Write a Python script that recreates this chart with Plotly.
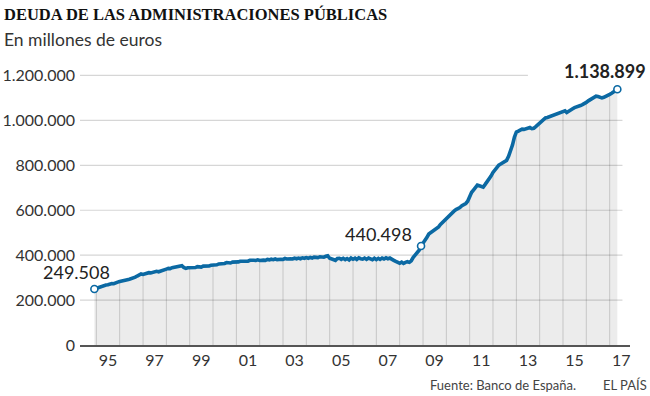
import plotly.graph_objects as go
import pandas as pd

# ---- Data: Deuda de las AA.PP., monthly, in thousands of millions of euros ----
start_month = "1994-12-01"
deuda_1994 = [249.508]
deuda_1995 = [253, 257, 258, 263, 264, 267, 268, 272, 274, 273, 278, 280]
deuda_1996 = [283, 286, 287, 290, 291, 293, 295, 299, 302, 307, 311, 316]
deuda_1997 = [314, 318, 319, 322, 321, 324, 326, 328, 326, 330, 331, 334]
deuda_1998 = [338, 341, 340, 344, 345, 348, 349, 352, 353, 345, 341, 344]
deuda_1999 = [344, 346, 347, 345, 349, 348, 347, 351, 350, 353, 352, 355]
deuda_2000 = [355, 358, 357, 361, 361, 364, 363, 367, 367, 365, 369, 369]
deuda_2001 = [371, 370, 373, 372, 375, 374, 373, 377, 375, 377, 376, 379]
deuda_2002 = [376, 379, 378, 377, 381, 379, 382, 380, 383, 380, 383, 382]
deuda_2003 = [381, 385, 383, 385, 384, 383, 387, 384, 387, 384, 388, 386]
deuda_2004 = [389, 386, 390, 387, 391, 390, 389, 393, 392, 391, 395, 397]
deuda_2005 = [386, 382, 380, 377, 385, 386, 381, 386, 380, 385, 379, 387]
deuda_2006 = [382, 387, 381, 388, 384, 382, 387, 381, 387, 383, 380, 386]
deuda_2007 = [380, 386, 381, 387, 383, 388, 384, 387, 380, 377, 372, 370]
deuda_2008 = [364, 369, 363, 368, 371, 368, 375, 390, 400, 410, 422, 440.498]
deuda_2009 = [452, 465, 478, 494, 500, 508, 513, 518, 526, 537, 546, 556]
deuda_2010 = [562, 570, 578, 590, 596, 603, 606, 612, 620, 624, 630, 640]
deuda_2011 = [665, 680, 690, 702, 712, 709, 706, 703, 715, 726, 738, 752]
deuda_2012 = [768, 780, 792, 801, 806, 812, 815, 822, 840, 862, 890, 925]
deuda_2013 = [948, 952, 958, 961, 960, 963, 966, 968, 963, 965, 972, 980]
deuda_2014 = [991, 998, 1005, 1011, 1013, 1016, 1020, 1023, 1027, 1030, 1033, 1036]
deuda_2015 = [1039, 1043, 1035, 1042, 1048, 1052, 1057, 1059, 1063, 1066, 1070, 1074]
deuda_2016 = [1080, 1087, 1093, 1099, 1105, 1108, 1106, 1104, 1100, 1103, 1106, 1110]
deuda_2017 = [1116, 1121, 1127, 1132, 1138.899]

highlight_dates = ["1994-12-01", "2008-12-01", "2017-05-01"]
highlight_labels = ["249.508", "440.498", "1.138.899"]

x_tick_years = [1995, 1997, 1999, 2001, 2003, 2005, 2007, 2009, 2011, 2013, 2015, 2017]
x_tick_labels = ["95", "97", "99", "01", "03", "05", "07", "09", "11", "13", "15", "17"]
y_tick_values = [0, 200000, 400000, 600000, 800000, 1000000, 1200000]

# ---- Build series ----
all_years = [deuda_1994, deuda_1995, deuda_1996, deuda_1997, deuda_1998, deuda_1999,
             deuda_2000, deuda_2001, deuda_2002, deuda_2003, deuda_2004, deuda_2005,
             deuda_2006, deuda_2007, deuda_2008, deuda_2009, deuda_2010, deuda_2011,
             deuda_2012, deuda_2013, deuda_2014, deuda_2015, deuda_2016, deuda_2017]
values = [round(v * 1000) for yr in all_years for v in yr]
dates = pd.date_range(start_month, periods=len(values), freq="MS")
series = pd.Series(values, index=dates)

BLUE = "#0b69a3"
FONT = "Lato"

fig = go.Figure()

# filled area
fig.add_trace(go.Scatter(x=dates, y=values, mode="lines", fill="tozeroy",
                         fillcolor="rgba(0,0,0,0.075)", line=dict(width=0),
                         hoverinfo="skip", showlegend=False))

# vertical year separators under the curve
vx, vy = [], []
for yr in range(1995, 2018):
    d = pd.Timestamp(f"{yr}-01-01")
    vx += [d, d, None]
    vy += [0, series[d], None]
fig.add_trace(go.Scatter(x=vx, y=vy, mode="lines",
                         line=dict(color="rgba(0,0,0,0.16)", width=1),
                         hoverinfo="skip", showlegend=False))

# main line
fig.add_trace(go.Scatter(x=dates, y=values, mode="lines",
                         line=dict(color=BLUE, width=3.6),
                         showlegend=False))

# highlighted points
hx = [pd.Timestamp(d) for d in highlight_dates]
hy = [series[d] for d in hx]
fig.add_trace(go.Scatter(x=hx, y=hy, mode="markers",
                         marker=dict(size=7, color="white", line=dict(color=BLUE, width=1.6)),
                         showlegend=False))

# horizontal gridlines (shapes below traces)
for v in y_tick_values[1:]:
    x_end = "2013-07-01" if v == 1200000 else "2017-07-20"
    fig.add_shape(type="line", xref="x", yref="y", x0="1994-04-20", x1=x_end,
                  y0=v, y1=v, line=dict(color="#d6d6d6", width=1.2), layer="below")

# value annotations
shifts = [(-18, 17, False), (-43, 12, False), (-12, 18, True)]
for d, v, lab, (xs, ys, bold) in zip(hx, hy, highlight_labels, shifts):
    fig.add_annotation(x=d, y=v, text=f"<b>{lab}</b>" if bold else lab, showarrow=False,
                       xanchor="center", yanchor="middle", xshift=xs, yshift=ys,
                       font=dict(family=FONT, size=18, color="#222"))

# title / subtitle / footer
PW, PH = 550, 292
def px(x):
    return (x - 80) / PW
def py(y):
    return (345 - y) / PH

fig.add_annotation(xref="paper", yref="paper", x=px(2), y=py(14), xanchor="left", yanchor="middle",
                   text="<b>DEUDA DE LAS ADMINISTRACIONES PÚBLICAS</b>", showarrow=False,
                   font=dict(family="Liberation Serif", size=16.5, color="#111"))
fig.add_annotation(xref="paper", yref="paper", x=px(2), y=py(40), xanchor="left", yanchor="middle",
                   text="En millones de euros", showarrow=False,
                   font=dict(family=FONT, size=17.5, color="#333"))
fig.add_annotation(xref="paper", yref="paper", x=px(578), y=py(385), xanchor="right", yanchor="middle",
                   text="Fuente: Banco de España.", showarrow=False,
                   font=dict(family=FONT, size=13, color="#444"))
fig.add_annotation(xref="paper", yref="paper", x=px(649), y=py(385), xanchor="right", yanchor="middle",
                   text="EL PAÍS", showarrow=False,
                   font=dict(family=FONT, size=13, color="#444"))

fig.update_layout(
    width=650, height=396,
    margin=dict(l=80, r=20, t=53, b=51, autoexpand=False),
    paper_bgcolor="white", plot_bgcolor="white",
    separators=",.",
    xaxis=dict(type="date", range=["1994-04-20", "2017-11-15"], automargin=False,
               showgrid=False, zeroline=False,
               showline=True, linecolor="#555", linewidth=1.5,
               ticks="", tickvals=[f"{y}-07-01" for y in x_tick_years], ticktext=x_tick_labels,
               tickfont=dict(family=FONT, size=16, color="#333")),
    yaxis=dict(range=[0, 1300000], automargin=False, showgrid=False, zeroline=False, showline=False,
               ticks="", tickvals=y_tick_values, tickformat=",d",
               tickfont=dict(family=FONT, size=16, color="#333"), ticklabelstandoff=4),
)

fig.write_html("out.html", config={"displayModeBar": False},
               post_script="document.body.style.margin='0';document.body.style.overflow='hidden';")
